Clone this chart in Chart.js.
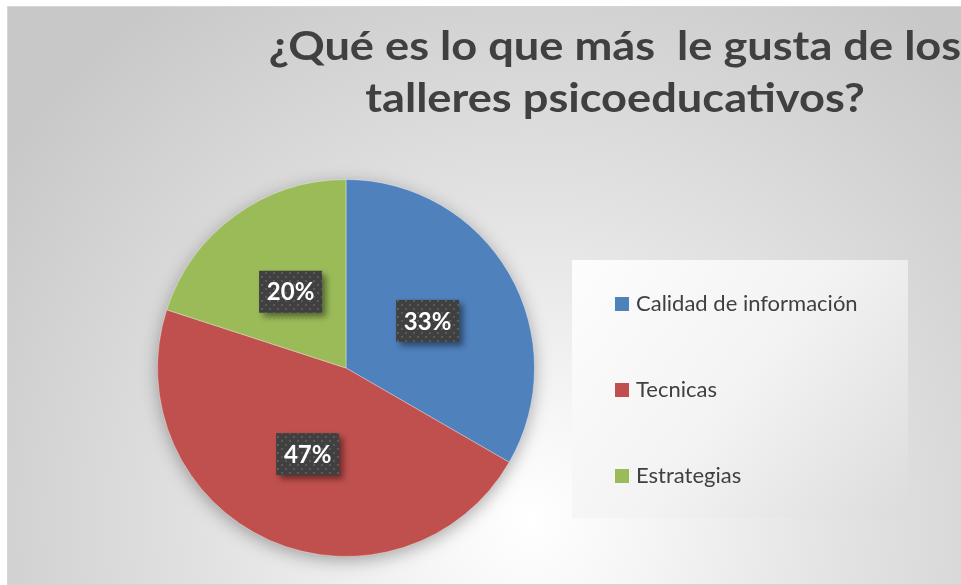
<!DOCTYPE html>
<html lang="es">
<head>
<meta charset="utf-8">
<title>¿Qué es lo que más le gusta de los talleres psicoeducativos?</title>
<script src="https://cdn.jsdelivr.net/npm/chart.js@4.4.1/dist/chart.umd.min.js"></script>
<style>
  html, body { margin: 0; padding: 0; background: #fff; overflow: hidden; }
  .frame {
    position: absolute; left: 7px; top: 6px; width: 1000px; height: 577px;
    border: 1px solid #d6d6d6;
    background: radial-gradient(circle at 522px 513px, #ffffff 0px, #f6f6f6 110px, #e2e2e2 320px, #c8c8c8 640px);
  }
  #chart { position: absolute; left: 0; top: 0; }
</style>
</head>
<body>
<div class="frame">
  <canvas id="chart" width="953" height="577"></canvas>
</div>
<script>
const titleLines = ['¿Qué es lo que más  le gusta de los', 'talleres psicoeducativos?'];
const categories = ['Calidad de información', 'Tecnicas', 'Estrategias'];
const responses = [5, 7, 3];
const sliceColors = ['#4f81bd', '#c0504d', '#9bbb59'];

// dark dotted fill used behind the percentage labels
const dotTile = document.createElement('canvas');
dotTile.width = 8; dotTile.height = 8;
(function () {
  const t = dotTile.getContext('2d');
  t.fillStyle = '#404040';
  t.fillRect(0, 0, 8, 8);
  t.fillStyle = '#5a5a5a';
  t.fillRect(1, 1, 2, 2);
  t.fillRect(5, 5, 2, 2);
})();

const titlePlugin = {
  id: 'titleText',
  afterDraw(chart) {
    const ctx = chart.ctx;
    ctx.save();
    ctx.fillStyle = '#404040';
    ctx.font = 'bold 40px Lato';
    ctx.textAlign = 'center';
    ctx.textBaseline = 'alphabetic';
    // Calibri-like proportions: Lato is a bit narrow at this cap height
    ctx.translate(607, 0);
    ctx.scale(1.13, 1);
    ctx.fillText(titleLines[0], 0, 53);
    ctx.fillText(titleLines[1], 0, 105);
    ctx.restore();
  }
};

const pieShadow = {
  id: 'pieShadow',
  beforeDatasetsDraw(chart) {
    const arc = chart.getDatasetMeta(0).data[0];
    if (!arc) return;
    const { x, y, outerRadius } = arc.getProps(['x', 'y', 'outerRadius'], true);
    const ctx = chart.ctx;
    ctx.save();
    ctx.shadowColor = 'rgba(0,0,0,0.35)';
    ctx.shadowBlur = 18;
    ctx.shadowOffsetY = 4;
    ctx.fillStyle = '#999';
    ctx.beginPath();
    ctx.arc(x, y, outerRadius - 1, 0, Math.PI * 2);
    ctx.fill();
    ctx.restore();
  }
};

const pctLabels = {
  id: 'pctLabels',
  afterDatasetsDraw(chart) {
    const ctx = chart.ctx;
    const total = responses.reduce((a, b) => a + b, 0);
    const pattern = ctx.createPattern(dotTile, 'repeat');
    chart.getDatasetMeta(0).data.forEach((arc, i) => {
      const p = arc.getProps(['x', 'y', 'startAngle', 'endAngle', 'outerRadius'], true);
      const mid = (p.startAngle + p.endAngle) / 2;
      const r = p.outerRadius * 0.5;
      const cx = p.x + Math.cos(mid) * r;
      const cy = p.y + Math.sin(mid) * r;
      const w = 63, h = 42;
      ctx.save();
      ctx.shadowColor = 'rgba(0,0,0,0.45)';
      ctx.shadowBlur = 6;
      ctx.shadowOffsetX = 4;
      ctx.shadowOffsetY = 4;
      ctx.fillStyle = pattern;
      ctx.fillRect(cx - w / 2, cy - h / 2, w, h);
      ctx.restore();
      ctx.save();
      ctx.fillStyle = '#ffffff';
      ctx.font = 'bold 24px Lato';
      ctx.textAlign = 'center';
      ctx.textBaseline = 'middle';
      ctx.fillText(Math.round(responses[i] / total * 100) + '%', cx, cy + 1);
      ctx.restore();
    });
  }
};

const boxLegend = {
  id: 'boxLegend',
  afterDraw(chart) {
    const ctx = chart.ctx;
    const bx = 564, by = 253, bw = 336, bh = 258;
    ctx.save();
    const g = ctx.createLinearGradient(bx, by, bx + bw, by + bh);
    g.addColorStop(0, '#fdfdfd');
    g.addColorStop(0.5, '#f3f3f3');
    g.addColorStop(1, '#dcdcdc');
    ctx.fillStyle = g;
    ctx.fillRect(bx, by, bw, bh);
    ctx.font = '22px Lato';
    ctx.textBaseline = 'middle';
    ctx.textAlign = 'left';
    categories.forEach((name, i) => {
      const cy = 297 + i * 86;
      ctx.fillStyle = sliceColors[i];
      ctx.fillRect(607, cy - 7, 14, 14);
      ctx.fillStyle = '#404040';
      ctx.fillText(name, 628, cy);
    });
    ctx.restore();
  }
};

new Chart(document.getElementById('chart'), {
  type: 'pie',
  data: {
    labels: categories,
    datasets: [{
      data: responses,
      backgroundColor: sliceColors,
      borderColor: 'rgba(255,255,255,0.35)',
      borderWidth: 1
    }]
  },
  options: {
    responsive: false,
    animation: false,
    layout: { padding: { left: 149, top: 172, right: 426, bottom: 27 } },
    plugins: {
      legend: { display: false },
      tooltip: { enabled: false },
      title: { display: false }
    }
  },
  plugins: [pieShadow, pctLabels, boxLegend, titlePlugin]
});
</script>
</body>
</html>
